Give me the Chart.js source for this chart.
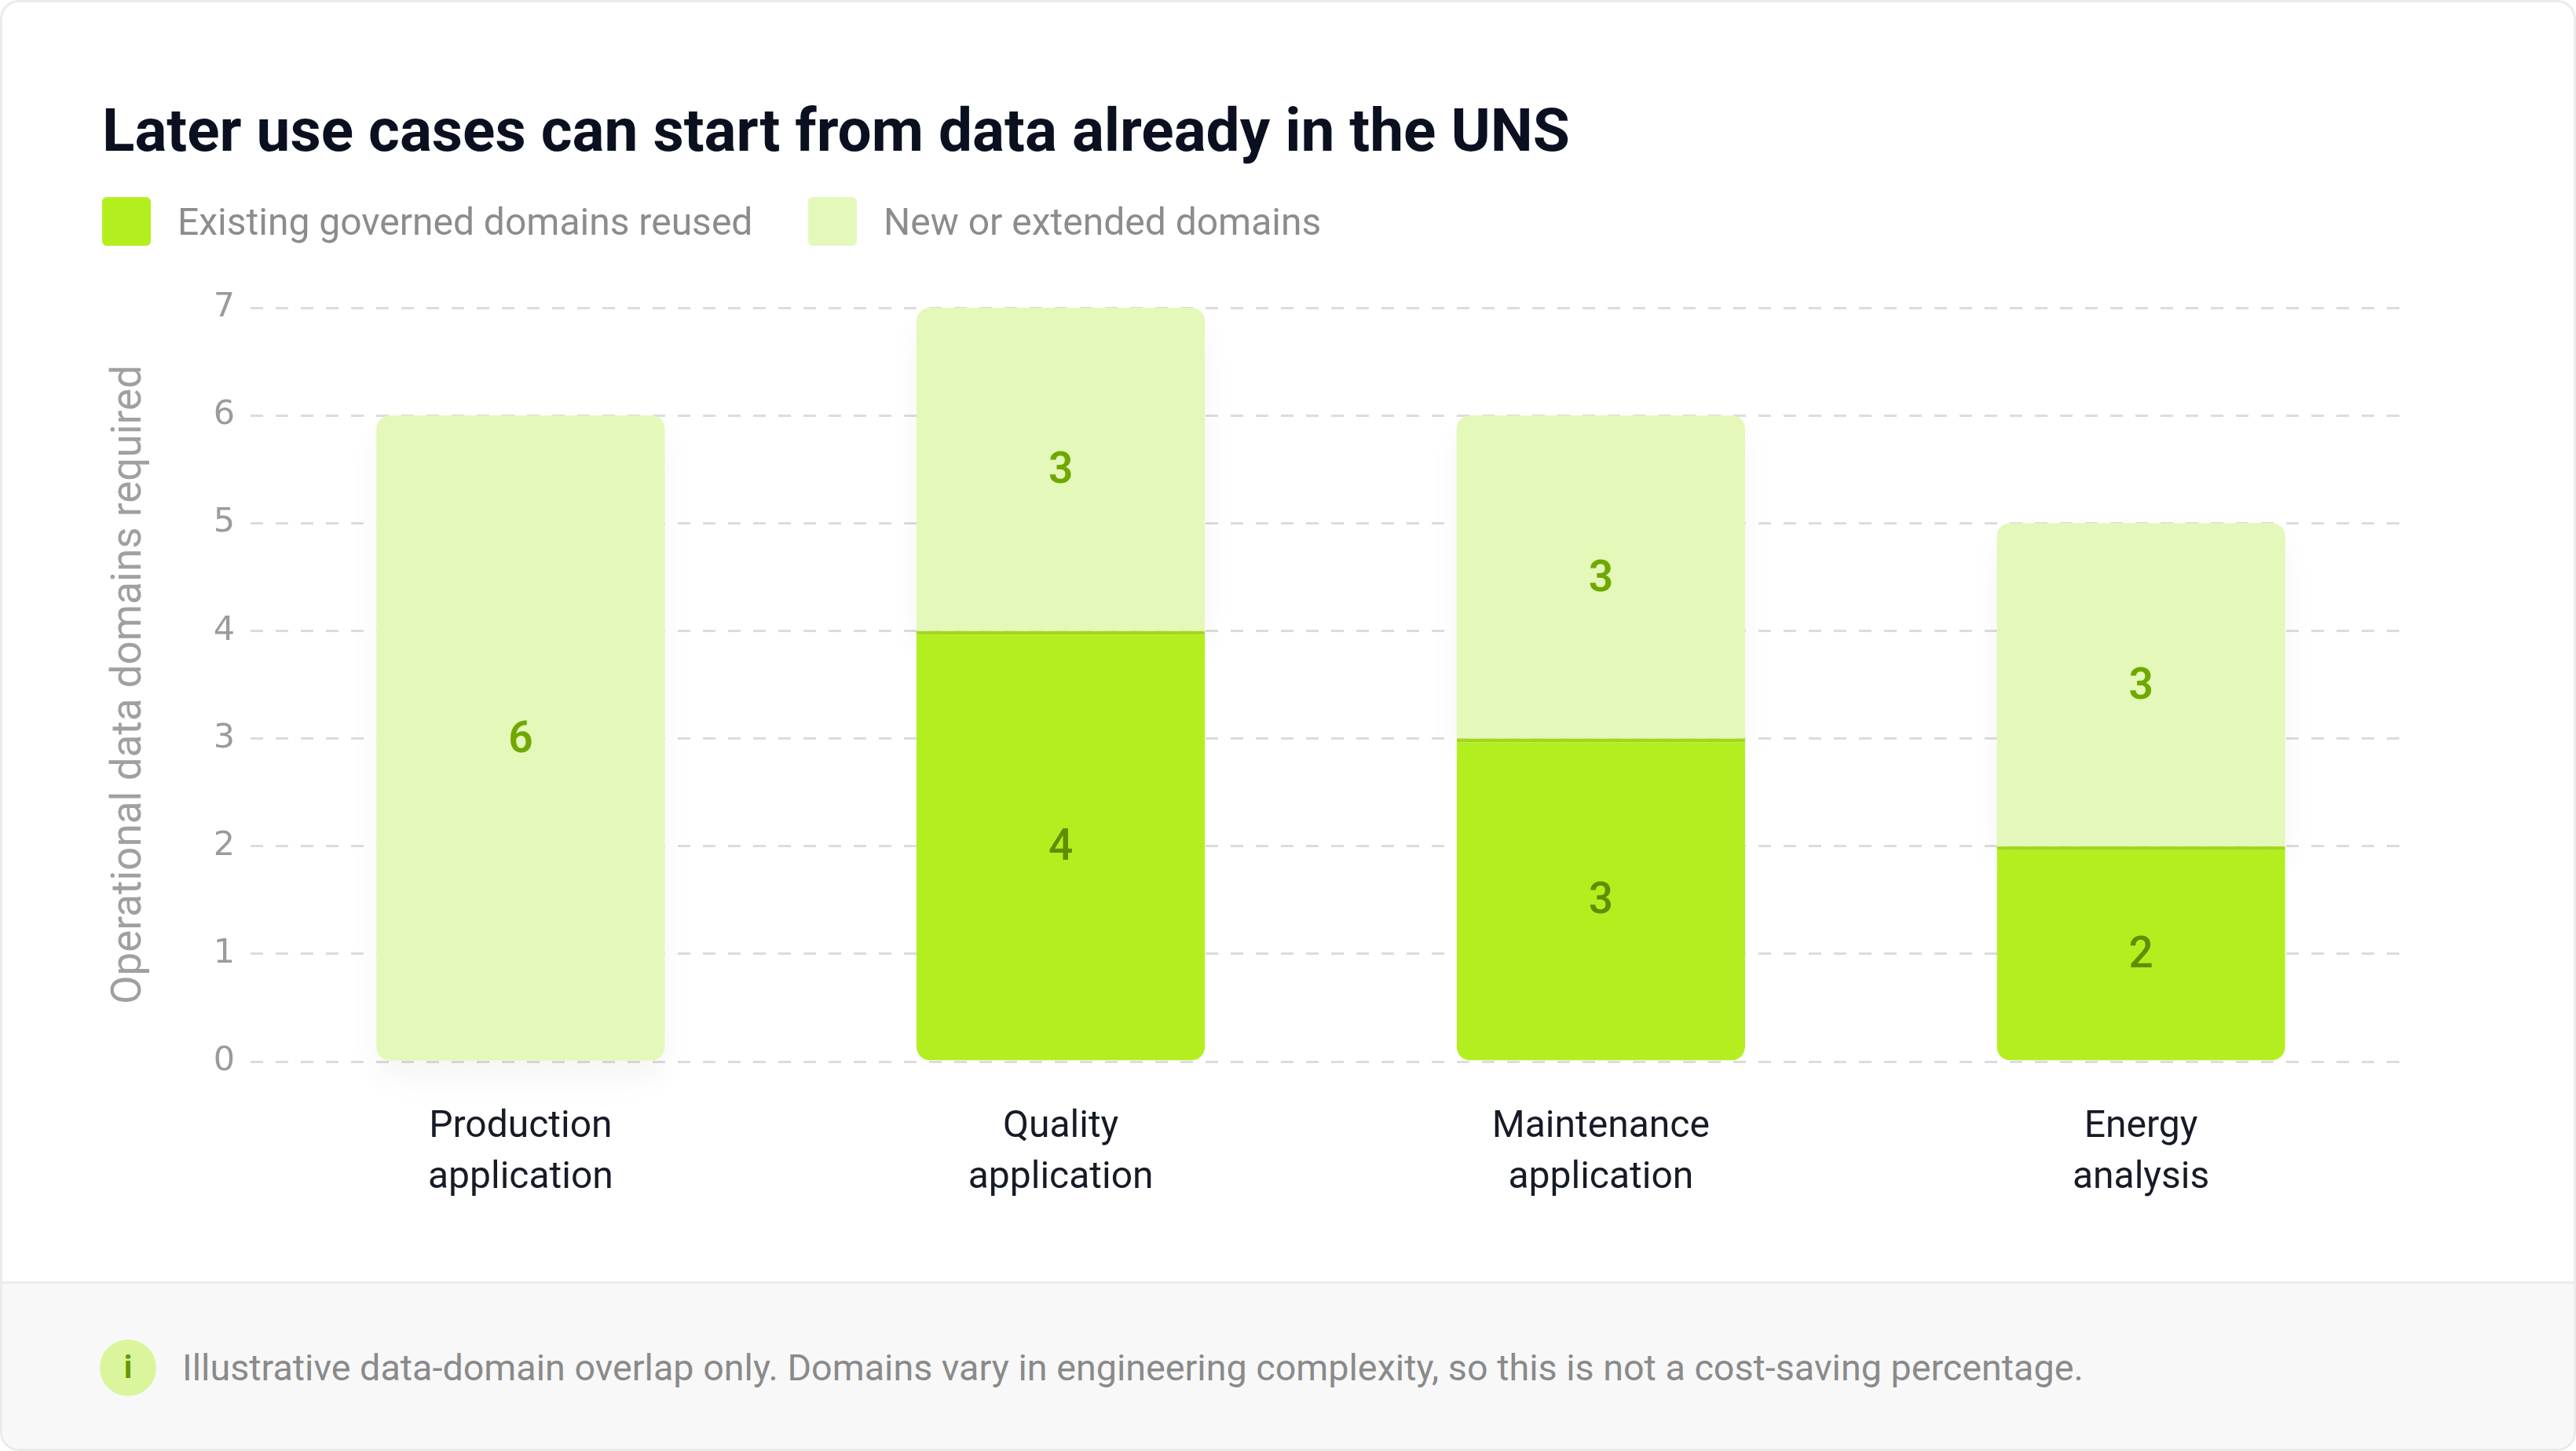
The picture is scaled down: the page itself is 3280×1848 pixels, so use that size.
<!DOCTYPE html>
<html lang="en">
<head>
<meta charset="utf-8">
<title>Later use cases can start from data already in the UNS</title>
<script src="https://cdn.jsdelivr.net/npm/chart.js@4.4.1/dist/chart.umd.min.js"></script>
<style>
    html, body { margin: 0; padding: 0; width: 3280px; height: 1848px; overflow: hidden; background: #fff; font-family: Roboto, "Noto Sans", sans-serif; }
    #tarjeta { position: absolute; left: 0; top: 0; width: 3280px; height: 1848px; box-sizing: border-box; border: 3px solid #ebebeb; border-radius: 24px; overflow: hidden; background: #fff; }
    #titulo { position: absolute; left: 127px; top: 118px; margin: 0; font-size: 76.5px; font-weight: 700; color: #0b1020; white-space: nowrap; z-index: 2; }
    .item { position: absolute; top: 248px; height: 62px; display: flex; align-items: center; font-size: 48px; color: #8c8c8c; white-space: nowrap; z-index: 2; }
    .caja { width: 62px; height: 62px; border-radius: 6px; margin-right: 34px; }
    #contenedorGrafico { position: absolute; left: 0; top: 0; width: 3280px; height: 1629px; }
    #pie { position: absolute; left: 0; top: 1629px; width: 100%; height: 216px; background: #f8f8f8; border-top: 3px solid #ebebeb; box-sizing: border-box; display: flex; align-items: center; padding-left: 124px; }
    .icono { width: 72px; height: 72px; border-radius: 50%; background: #daf59c; color: #5f9a00; font-weight: 700; font-size: 40px; display: flex; align-items: center; justify-content: center; margin-right: 33px; }
    #nota { font-size: 46.7px; color: #8a8a8a; }
</style>
</head>
<body>
<div id="tarjeta">
    <h1 id="titulo">Later use cases can start from data already in the UNS</h1>
    <div class="item" style="left:127px"><span class="caja" style="background:#b3ef1f"></span>Existing governed domains reused</div>
    <div class="item" style="left:1026px"><span class="caja" style="background:#e4f8b9"></span>New or extended domains</div>
    <div id="contenedorGrafico"><canvas id="graficoDominios" width="3280" height="1629"></canvas></div>
    <div id="pie"><span class="icono">i</span><span id="nota">Illustrative data-domain overlap only. Domains vary in engineering complexity, so this is not a cost-saving percentage.</span></div>
</div>

<script>
// ===================================== Datos del grafico ==================
const categorias = [["Production", "application"], ["Quality", "application"], ["Maintenance", "application"], ["Energy", "analysis"]];
const dominiosExistentes = [0, 4, 3, 2];
const dominiosNuevos = [6, 3, 3, 3];
const ticksEjeY = [0, 1, 2, 3, 4, 5, 6, 7];

const colores = ["#b3ef1f", "#e4f8b9"];
const radio = 17;

// tramos flotantes: verde abajo, claro encima
const tramosExistentes = dominiosExistentes.map(v => [0, v]);
const tramosNuevos = dominiosNuevos.map((v, i) => [dominiosExistentes[i], dominiosExistentes[i] + v]);


// ===================================== Sombra suave bajo las barras ==================
const sombraBarras = {
    id: 'sombraBarras',
    beforeDatasetsDraw(chart) {
        const ctx = chart.ctx;
        ctx.save();
        ctx.shadowColor = "rgba(0, 0, 0, 0.045)";
        ctx.shadowBlur = 40;
        ctx.shadowOffsetY = 22;
    },
    afterDatasetsDraw(chart) {
        chart.ctx.restore();
    }
};


// ===================================== Numeros dentro de cada tramo ==================
const etiquetasValores = {
    id: 'etiquetasValores',
    afterDatasetsDraw(chart) {
        const ctx = chart.ctx;
        chart.data.datasets.forEach((ds, i) => {
            const valores = i === 0 ? dominiosExistentes : dominiosNuevos;
            chart.getDatasetMeta(i).data.forEach((barra, j) => {
                if (!valores[j]) return;
                ctx.save();
                ctx.font = (i === 0 ? "500 " : "600 ") + "55px Roboto";
                ctx.fillStyle = i === 0 ? "#5e8f00" : "#6fa800";
                ctx.textAlign = "center";
                ctx.textBaseline = "middle";
                ctx.fillText(String(valores[j]), barra.x, (barra.y + barra.base) / 2 + 4);
                ctx.restore();
            });
        });
    }
};


// ===================================== Grafico dominios por caso de uso ==================
new Chart(document.getElementById("graficoDominios"), {
    type: 'bar',
    data: {
        labels: categorias,
        datasets: [
            {
                label: 'Existing governed domains reused',
                data: tramosExistentes,
                backgroundColor: colores[0],
                borderColor: "#a3d81a",
                borderWidth: { top: 5, left: 0, right: 0, bottom: 0 },
                borderSkipped: false,
                borderRadius: { topLeft: 0, topRight: 0, bottomLeft: radio, bottomRight: radio },
                grouped: false,
                categoryPercentage: 1,
                barPercentage: 0.534,
                clip: false
            },
            {
                label: 'New or extended domains',
                data: tramosNuevos,
                backgroundColor: colores[1],
                borderWidth: 0,
                borderSkipped: false,
                borderRadius: ctx => dominiosExistentes[ctx.dataIndex] === 0
                    ? radio
                    : { topLeft: radio, topRight: radio, bottomLeft: 0, bottomRight: 0 },
                grouped: false,
                categoryPercentage: 1,
                barPercentage: 0.534,
                clip: false
            }
        ]
    },
    options: {
        responsive: false,
        animation: false,
        devicePixelRatio: 1,
        layout: { padding: { top: 389, right: 213, left: 0, bottom: 0 } },
        plugins: {
            legend: { display: false },
            tooltip: { enabled: false }
        },
        scales: {
            x: {
                grid: { display: false, drawTicks: false },
                border: { display: false },
                ticks: {
                    color: "#161b26",
                    padding: 52,
                    maxRotation: 0,
                    font: { family: "Roboto", size: 48, lineHeight: 1.354 }
                },
                afterFit(scale) { scale.height = 280; }
            },
            y: {
                min: ticksEjeY[0],
                max: ticksEjeY[ticksEjeY.length - 1],
                ticks: {
                    stepSize: 1,
                    padding: 20,
                    color: "#9b9b9b",
                    font: { family: "DejaVu Sans", size: 43 }
                },
                grid: { color: "#dcdcdc", lineWidth: 3, drawTicks: false },
                border: { display: false, dash: [16, 16] },
                title: {
                    display: true,
                    text: 'Operational data domains required',
                    color: "#a0a0a0",
                    font: { family: "Roboto", size: 53 },
                    padding: { top: 131, bottom: 0 }
                },
                afterFit(scale) { scale.width = 316; }
            }
        }
    },
    plugins: [sombraBarras, etiquetasValores]
});
</script>
</body>
</html>
